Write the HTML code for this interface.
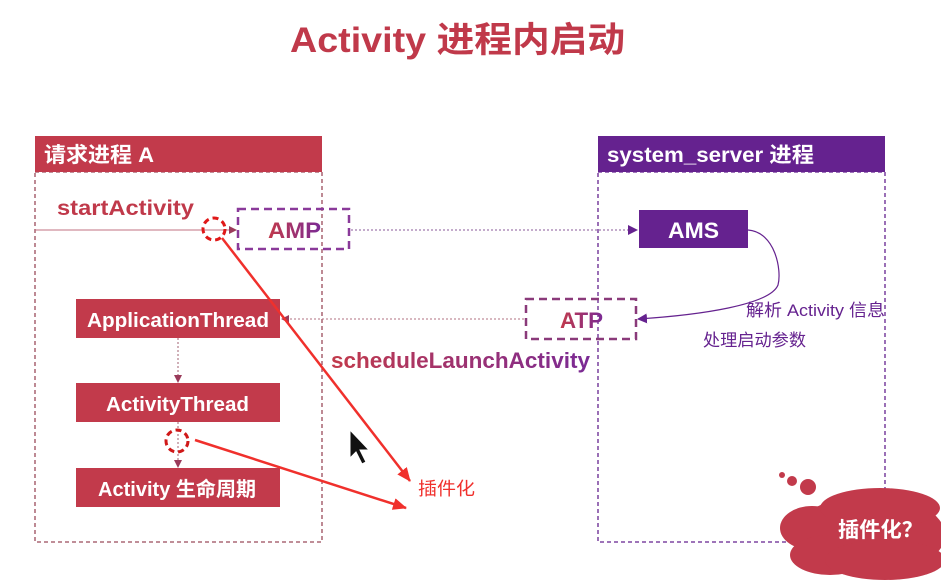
<!DOCTYPE html>
<html><head><meta charset="utf-8"><style>
html,body{margin:0;padding:0;background:#fff;}
svg{display:block;font-family:"Liberation Sans","Noto Sans CJK SC",sans-serif;}
</style></head><body>
<svg width="941" height="585" viewBox="0 0 941 585" xmlns="http://www.w3.org/2000/svg">
<defs>
<linearGradient id="g" x1="0" x2="1"><stop offset="0" stop-color="#c23a4b"/><stop offset="1" stop-color="#7a2a95"/></linearGradient>
<marker id="ar" markerWidth="8" markerHeight="8" refX="7" refY="4" orient="auto" markerUnits="userSpaceOnUse"><path d="M0,0 L8,4 L0,8z" fill="#9a3a5a"/></marker>
<marker id="ap" markerWidth="10" markerHeight="10" refX="9" refY="5" orient="auto" markerUnits="userSpaceOnUse"><path d="M0,0 L10,5 L0,10z" fill="#65228f"/></marker>
<marker id="rr" markerWidth="14" markerHeight="12" refX="13" refY="6" orient="auto" markerUnits="userSpaceOnUse"><path d="M0,0 L14,6 L0,12z" fill="#f0302c"/></marker>
</defs>
<rect width="941" height="585" fill="#fff"/>
<text x="290" y="52" textLength="335" lengthAdjust="spacingAndGlyphs" font-size="35" font-weight="bold" fill="#c0394a">Activity 进程内启动</text>
<rect x="35" y="172" width="287" height="370" fill="none" stroke="#9a4a5a" stroke-width="1.3" stroke-dasharray="4,3"/>
<rect x="35" y="136" width="287" height="36" fill="#c23a4b"/>
<text x="44" y="162" textLength="110" lengthAdjust="spacingAndGlyphs" font-size="21" font-weight="bold" fill="#fff">请求进程 A</text>
<rect x="598" y="172" width="287" height="370" fill="none" stroke="#65228f" stroke-width="1.3" stroke-dasharray="4,3"/>
<rect x="598" y="136" width="287" height="36" fill="#65228f"/>
<text x="607" y="162" textLength="207" lengthAdjust="spacingAndGlyphs" font-size="21" font-weight="bold" fill="#fff">system_server 进程</text>
<text x="57" y="215" textLength="137" lengthAdjust="spacingAndGlyphs" font-size="21" font-weight="bold" fill="#c0394a">startActivity</text>
<line x1="35" y1="230" x2="236" y2="230" stroke="#c07080" stroke-width="1" marker-end="url(#ar)"/>
<circle cx="214" cy="229" r="11" fill="none" stroke="#e01818" stroke-width="3" stroke-dasharray="6,4"/>
<rect x="238" y="209" width="111" height="40" fill="none" stroke="#8a3a9a" stroke-width="2.5" stroke-dasharray="8,5"/>
<text x="268" y="238" textLength="53" lengthAdjust="spacingAndGlyphs" font-size="22" font-weight="bold" fill="url(#g)">AMP</text>
<line x1="351" y1="230" x2="637" y2="230" stroke="#8a5a9a" stroke-width="1" stroke-dasharray="2,2" marker-end="url(#ap)"/>
<rect x="639" y="210" width="109" height="38" fill="#65228f"/>
<text x="668" y="238" textLength="51" lengthAdjust="spacingAndGlyphs" font-size="22" font-weight="bold" fill="#fff">AMS</text>
<path d="M748,230 C775,232 782,270 778,285 C770,305 700,315 638,319" fill="none" stroke="#65228f" stroke-width="1.2" marker-end="url(#ap)"/>
<rect x="526" y="299" width="110" height="40" fill="none" stroke="#8a3a7a" stroke-width="2.5" stroke-dasharray="8,5"/>
<text x="560" y="328" textLength="43" lengthAdjust="spacingAndGlyphs" font-size="22" font-weight="bold" fill="url(#g)">ATP</text>
<line x1="524" y1="319" x2="282" y2="319" stroke="#b07080" stroke-width="1" stroke-dasharray="2,2" marker-end="url(#ar)"/>
<text x="746" y="316" textLength="139" lengthAdjust="spacingAndGlyphs" font-size="17" fill="#65228f">解析 Activity 信息</text>
<text x="703" y="346" textLength="103" lengthAdjust="spacingAndGlyphs" font-size="17" fill="#65228f">处理启动参数</text>
<text x="331" y="368" textLength="259" lengthAdjust="spacingAndGlyphs" font-size="22" font-weight="bold" fill="url(#g)">scheduleLaunchActivity</text>
<rect x="76" y="299" width="204" height="39" fill="#c23a4b"/>
<text x="87" y="327" textLength="182" lengthAdjust="spacingAndGlyphs" font-size="20" font-weight="bold" fill="#fff">ApplicationThread</text>
<rect x="76" y="383" width="204" height="39" fill="#c23a4b"/>
<text x="106" y="411" textLength="143" lengthAdjust="spacingAndGlyphs" font-size="20" font-weight="bold" fill="#fff">ActivityThread</text>
<rect x="76" y="468" width="204" height="39" fill="#c23a4b"/>
<text x="98" y="496" textLength="158" lengthAdjust="spacingAndGlyphs" font-size="20" font-weight="bold" fill="#fff">Activity 生命周期</text>
<line x1="178" y1="338" x2="178" y2="382" stroke="#a06070" stroke-dasharray="2,2" marker-end="url(#ar)"/>
<line x1="178" y1="422" x2="178" y2="467" stroke="#a06070" stroke-dasharray="2,2" marker-end="url(#ar)"/>
<circle cx="177" cy="441" r="11" fill="none" stroke="#d01818" stroke-width="3" stroke-dasharray="6,4"/>
<line x1="222" y1="238" x2="410" y2="481" stroke="#f0302c" stroke-width="2.5" marker-end="url(#rr)"/>
<line x1="195" y1="440" x2="406" y2="508" stroke="#f0302c" stroke-width="2.5" marker-end="url(#rr)"/>
<text x="418" y="495" textLength="57" lengthAdjust="spacingAndGlyphs" font-size="18" fill="#f0302c">插件化</text>
<path d="M350,430 L350,458 L356,452 L362,464 L366,462 L360,450 L369,450 Z" fill="#111" stroke="#fff" stroke-width="1"/>
<g fill="#c23a4b">
<circle cx="782" cy="475" r="3"/><circle cx="792" cy="481" r="5"/><circle cx="808" cy="487" r="8"/>
<ellipse cx="870" cy="535" rx="75" ry="40"/>
<ellipse cx="812" cy="528" rx="32" ry="22"/>
<ellipse cx="830" cy="555" rx="40" ry="20"/>
<ellipse cx="880" cy="508" rx="60" ry="20"/>
<ellipse cx="885" cy="560" rx="60" ry="20"/>
</g>
<text x="838" y="537" textLength="85" lengthAdjust="spacingAndGlyphs" font-size="21" font-weight="bold" fill="#fff">插件化？</text>
</svg>
</body></html>
